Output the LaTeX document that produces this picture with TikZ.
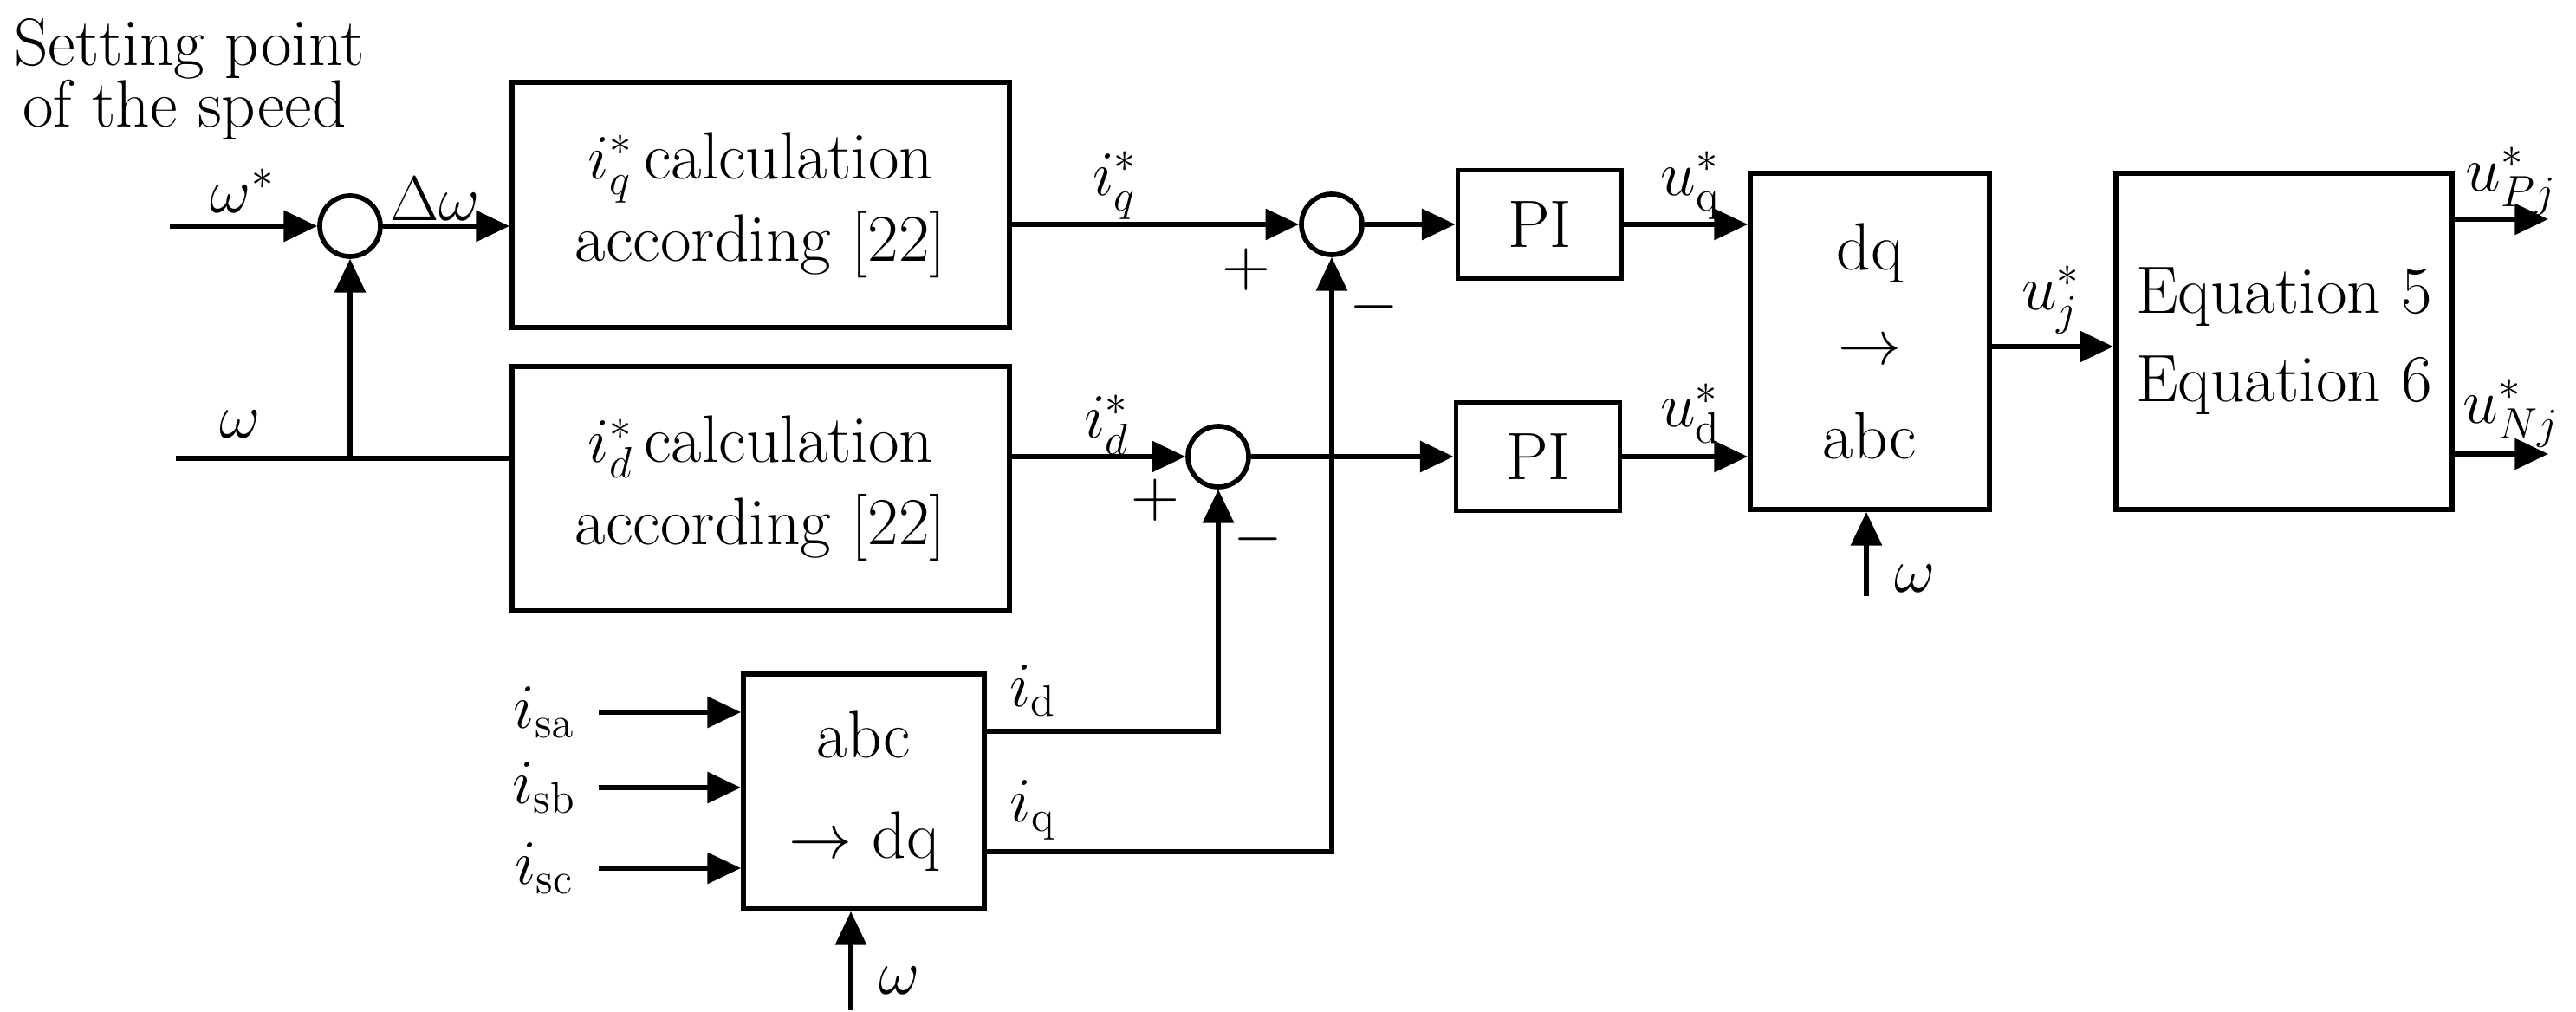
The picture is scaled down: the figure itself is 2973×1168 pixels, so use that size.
\documentclass[tikz,border=0pt]{standalone}
\usetikzlibrary{arrows.meta}
\begin{document}
\begin{tikzpicture}[x=0.01cm,y=-0.01cm,
  every node/.style={font=\fontsize{22}{27}\selectfont},
  blk/.style={draw,line width=1.6pt,inner sep=0pt},
  sum/.style={draw,circle,line width=1.6pt,minimum size=0.70cm,inner sep=0pt},
  ln/.style={line width=1.6pt},
  ar/.style={line width=1.6pt,-{Triangle[length=11pt,width=10pt]}},
  lbl/.style={inner sep=1pt}]
\useasboundingbox (0,0) rectangle (2973,1168);
% title
\node[lbl,align=left,anchor=west] (title1) at (12,56) {Setting point};
\node[lbl,align=left,anchor=west] (title2) at (22,127) {of the speed};
% blocks
\node[blk,minimum width=5.74cm,minimum height=2.83cm,align=center] (b1) at (878,236.5) {$i^{*}_{q}$\,calculation\\according [22]};
\node[blk,minimum width=5.74cm,minimum height=2.82cm,align=center] (b2) at (878,564) {$i^{*}_{d}$\,calculation\\according [22]};
\node[sum] (s1) at (404,261) {};
\node[sum] (s2) at (1537,259) {};
\node[sum] (s3) at (1406,527) {};
\node[blk,minimum width=1.89cm,minimum height=1.25cm] (pi1) at (1777,259) {PI};
\node[blk,minimum width=1.89cm,minimum height=1.25cm] (pi2) at (1775,527) {PI};
\node[blk,minimum width=2.76cm,minimum height=3.88cm,align=center] (dq) at (2158,394) {dq\\[4pt]$\rightarrow$\\[4pt]abc};
\node[blk,minimum width=3.88cm,minimum height=3.88cm,align=center] (eq) at (2636,394) {Equation 5\\[2pt]Equation 6};
\node[blk,minimum width=2.78cm,minimum height=2.71cm,align=center] (ad) at (997,913.5) {abc\\[6pt]$\rightarrow$ dq};
% coordinates
\coordinate (w1) at (196,261);
\coordinate (w2) at (203,529);
\coordinate (j1) at (404,529);
\coordinate (wdq) at (2154,688);
\coordinate (wad) at (982,1166);
\coordinate (isa) at (691,822);
\coordinate (isb) at (691,909);
\coordinate (isc) at (691,1002);
\coordinate (op) at (2941,253);
\coordinate (on) at (2941,524);
% connectors
\draw[ar] (w1) -- (s1.west);
\draw[ar] (s1.east) -- (b1.west |- s1.east);
\draw[ln] (w2) -- (b2.west |- w2);
\draw[ar] (j1) -- (s1.south);
\draw[ar] (b1.east |- s2.west) -- (s2.west);
\draw[ar] (s2.east) -- (pi1.west);
\draw[ar] (b2.east |- s3.west) -- (s3.west);
\draw[ar] (s3.east) -- (pi2.west);
\draw[ar] (pi1.east) -- (dq.west |- pi1.east);
\draw[ar] (pi2.east) -- (dq.west |- pi2.east);
\draw[ar] (dq.east |- 0,400) -- (eq.west |- 0,400);
\draw[ar] (eq.east |- op) -- (op);
\draw[ar] (eq.east |- on) -- (on);
\draw[ar] (wdq) -- (dq.south -| wdq);
\draw[ar] (wad) -- (ad.south -| wad);
\draw[ar] (isa) -- (ad.west |- isa);
\draw[ar] (isb) -- (ad.west |- isb);
\draw[ar] (isc) -- (ad.west |- isc);
\draw[ar] (ad.east |- 0,844) -| (s3.south);
\draw[ar] (ad.east |- 0,983) -| (s2.south);
% labels
\node[lbl] (lws) at (280,220) {$\omega^{*}$};
\node[lbl] (ldw) at (502,230) {$\Delta\omega$};
\node[lbl] (lw) at (277,490) {$\omega$};
\node[lbl] (liq) at (1287,214) {$i^{*}_{q}$};
\node[lbl] (lid) at (1277,490) {$i^{*}_{d}$};
\node[lbl] (p1) at (1438,311) {+};
\node[lbl] (m1) at (1586,354) {$-$};
\node[lbl] (p2) at (1333,577) {+};
\node[lbl] (m2) at (1452,622) {$-$};
\node[lbl] (luq) at (1951,214) {$u^{*}_{\mathrm{q}}$};
\node[lbl] (lud) at (1951,477) {$u^{*}_{\mathrm{d}}$};
\node[lbl] (luj) at (2367,346) {$u^{*}_{j}$};
\node[lbl] (lup) at (2898,209) {$u^{*}_{Pj}$};
\node[lbl] (lun) at (2898,477) {$u^{*}_{Nj}$};
\node[lbl] (lw2) at (2210,668) {$\omega$};
\node[lbl] (lw3) at (1038,1132) {$\omega$};
\node[lbl] (lidd) at (1192,797) {$i_{\mathrm{d}}$};
\node[lbl] (liqq) at (1192,935) {$i_{\mathrm{q}}$};
\node[lbl] (lsa) at (628,822) {$i_{\mathrm{sa}}$};
\node[lbl] (lsb) at (628,909) {$i_{\mathrm{sb}}$};
\node[lbl] (lsc) at (628,1002) {$i_{\mathrm{sc}}$};
\end{tikzpicture}
\end{document}
